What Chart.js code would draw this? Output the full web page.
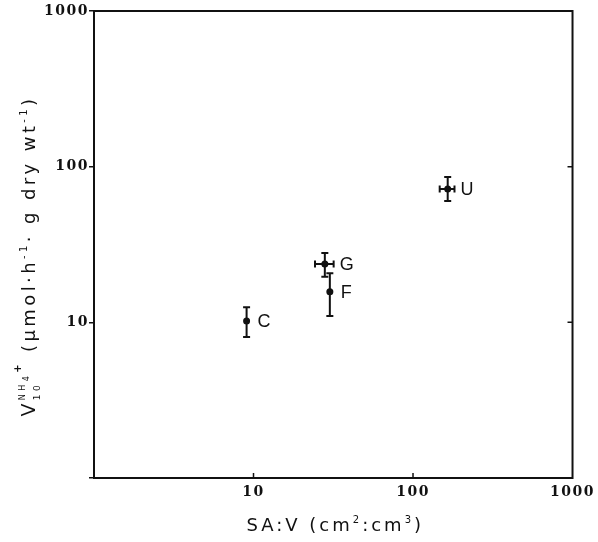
<!DOCTYPE html>
<html><head><meta charset="utf-8">
<script src="https://cdn.jsdelivr.net/npm/chart.js@4/dist/chart.umd.min.js"></script>
<style>html,body{margin:0;padding:0;background:#fff}#wrap{width:598px;height:542px}</style>
</head><body><div id="wrap"><canvas id="c" width="598" height="542"></canvas></div>
<script>
// ---- data ----
const pointLabels = ['C', 'G', 'F', 'U'];
const saV        = [9.05, 28.0, 30.1, 165];     // SA:V (cm2:cm3)
const saVLow     = [null, 24.3, null, 147];
const saVHigh    = [null, 31.8, null, 182];
const uptake     = [10.2, 23.7, 15.7, 71.8];    // V10 NH4+
const uptakeLow  = [8.05, 19.6, 11.0, 60.1];
const uptakeHigh = [12.5, 27.9, 20.7, 85.8];
const xTickValues = [1, 10, 100, 1000];
const xTickLabels = ['', '10', '100', '1000'];
const yTickValues = [1, 10, 100, 1000];
const yTickLabels = ['', '10', '100', '1000'];

const INK = '#111';

function drawRuns(ctx, runs, startX, baseY) {
  let x = startX;
  runs.forEach(r => {
    if (r.stack) {
      let w = 0;
      r.stack.forEach(part => {
        let px = x;
        part.forEach(s => {
          ctx.font = s.font;
          ctx.fillText(s.text, px, baseY + (s.dy || 0));
          px += ctx.measureText(s.text).width;
        });
        w = Math.max(w, px - x);
      });
      x += w;
    } else {
      ctx.font = r.font;
      ctx.fillText(r.text, x, baseY + (r.dy || 0));
      x += ctx.measureText(r.text).width;
    }
  });
  return x - startX;
}
function measureRuns(ctx, runs) {
  let w = 0;
  runs.forEach(r => {
    if (r.stack) {
      let m = 0;
      r.stack.forEach(part => {
        let pw = 0;
        part.forEach(s => { ctx.font = s.font; pw += ctx.measureText(s.text).width; });
        m = Math.max(m, pw);
      });
      w += m;
    } else { ctx.font = r.font; w += ctx.measureText(r.text).width; }
  });
  return w;
}

const tickSpacing = {
  id: 'tickSpacing',
  beforeDraw(chart) { chart.ctx.letterSpacing = '1.5px'; },
  beforeDatasetsDraw(chart) { chart.ctx.letterSpacing = '0px'; }
};

const frame = {
  id: 'frame',
  afterDraw(chart) {
    const {ctx, chartArea: a, scales} = chart;
    ctx.save();
    ctx.strokeStyle = INK;
    ctx.lineWidth = 2;
    ctx.strokeRect(a.left, a.top, a.right - a.left, a.bottom - a.top);
    ctx.lineWidth = 1.5;
    ctx.beginPath();
    [10, 100].forEach(v => {
      const px = scales.x.getPixelForValue(v);
      ctx.moveTo(px, a.bottom); ctx.lineTo(px, a.bottom - 5);
      const py = scales.y.getPixelForValue(v);
      ctx.moveTo(a.right, py); ctx.lineTo(a.right - 5, py);
    });
    ctx.stroke();
    ctx.restore();
  }
};

const errorBars = {
  id: 'errorBars',
  afterDatasetsDraw(chart) {
    const {ctx, scales: {x, y}} = chart;
    ctx.save();
    ctx.strokeStyle = INK;
    ctx.lineWidth = 2;
    const cap = 3.5;
    saV.forEach((sv, i) => {
      const px = x.getPixelForValue(sv), py = y.getPixelForValue(uptake[i]);
      const yl = y.getPixelForValue(uptakeLow[i]), yh = y.getPixelForValue(uptakeHigh[i]);
      ctx.beginPath();
      ctx.moveTo(px, yl); ctx.lineTo(px, yh);
      ctx.moveTo(px - cap, yl); ctx.lineTo(px + cap, yl);
      ctx.moveTo(px - cap, yh); ctx.lineTo(px + cap, yh);
      if (saVLow[i] != null) {
        const xl = x.getPixelForValue(saVLow[i]), xh = x.getPixelForValue(saVHigh[i]);
        ctx.moveTo(xl, py); ctx.lineTo(xh, py);
        ctx.moveTo(xl, py - cap); ctx.lineTo(xl, py + cap);
        ctx.moveTo(xh, py - cap); ctx.lineTo(xh, py + cap);
      }
      ctx.stroke();
      // label
      ctx.fillStyle = INK;
      ctx.font = '18px "Liberation Sans", Arial, sans-serif';
      ctx.textBaseline = 'middle';
      ctx.textAlign = 'left';
      const lx = saVHigh[i] != null ? x.getPixelForValue(saVHigh[i]) + 6 : px + 11;
      ctx.fillText(pointLabels[i], lx, py + 1);
    });
    ctx.restore();
  }
};

const titles = {
  id: 'titles',
  afterDraw(chart) {
    const {ctx, chartArea: a} = chart;
    ctx.save();
    ctx.fillStyle = INK;
    ctx.textBaseline = 'alphabetic';
    ctx.textAlign = 'left';
    // x title
    ctx.letterSpacing = '3px';
    const F = '18px "DejaVu Sans", sans-serif';
    const S = '10px "DejaVu Sans", sans-serif';
    const xr = [
      {text: 'SA:V (cm', font: F},
      {text: '2', font: S, dy: -8},
      {text: ':cm', font: F},
      {text: '3', font: S, dy: -8},
      {text: ')', font: F}
    ];
    const xw = measureRuns(ctx, xr);
    drawRuns(ctx, xr, (a.left + a.right) / 2 - xw / 2 + 2, 531);
    // y title
    ctx.letterSpacing = '3.4px';
    const yr = [
      {text: 'V', font: '19px "DejaVu Sans", sans-serif'},
      {stack: [
        [{text: '10', font: '9px "DejaVu Sans", sans-serif', dy: 5}],
        [{text: 'NH', font: '8px "DejaVu Sans", sans-serif', dy: -10},
         {text: '4', font: '8px "DejaVu Sans", sans-serif', dy: -6},
         {text: '+', font: 'bold 10px "DejaVu Sans", sans-serif', dy: -14}]
      ]},
      {text: ' (µmol·h', font: F},
      {text: '-1', font: S, dy: -8},
      {text: '· g dry wt', font: F},
      {text: '-1', font: S, dy: -8},
      {text: ')', font: F}
    ];
    const yw = measureRuns(ctx, yr);
    ctx.translate(35, 256);
    ctx.rotate(-Math.PI / 2);
    drawRuns(ctx, yr, -yw / 2, 0);
    ctx.restore();
  }
};

const tickFont = {family: '"DejaVu Serif", serif', weight: 'bold', size: 14};

new Chart(document.getElementById('c'), {
  type: 'scatter',
  data: {
    datasets: [{
      data: saV.map((v, i) => ({x: v, y: uptake[i]})),
      pointRadius: 3.5,
      pointHoverRadius: 3.5,
      backgroundColor: INK,
      borderWidth: 0
    }]
  },
  options: {
    responsive: false,
    animation: false,
    devicePixelRatio: 1,
    layout: {padding: {top: 11, right: 20, left: 0, bottom: 0}},
    plugins: {legend: {display: false}, tooltip: {enabled: false}, title: {display: false}},
    scales: {
      x: {
        type: 'logarithmic', min: 1, max: 1000,
        afterBuildTicks: s => { s.ticks = xTickValues.map(v => ({value: v})); },
        afterFit: s => { s.height = 64; },
        ticks: {
          callback: v => xTickLabels[xTickValues.indexOf(v)] ?? '',
          font: tickFont, color: INK, maxRotation: 0, autoSkip: false, padding: 6
        },
        grid: {display: false, drawTicks: false},
        border: {display: false}
      },
      y: {
        type: 'logarithmic', min: 1, max: 1000,
        afterBuildTicks: s => { s.ticks = yTickValues.map(v => ({value: v})); },
        afterFit: s => { s.width = 94; },
        ticks: {
          callback: v => yTickLabels[yTickValues.indexOf(v)] ?? '',
          font: tickFont, color: INK, autoSkip: false, padding: 0
        },
        grid: {drawOnChartArea: false, drawTicks: true, tickLength: 5, color: INK, lineWidth: 1.5},
        border: {display: false}
      }
    }
  },
  plugins: [tickSpacing, frame, errorBars, titles]
});
</script>
</body></html>
